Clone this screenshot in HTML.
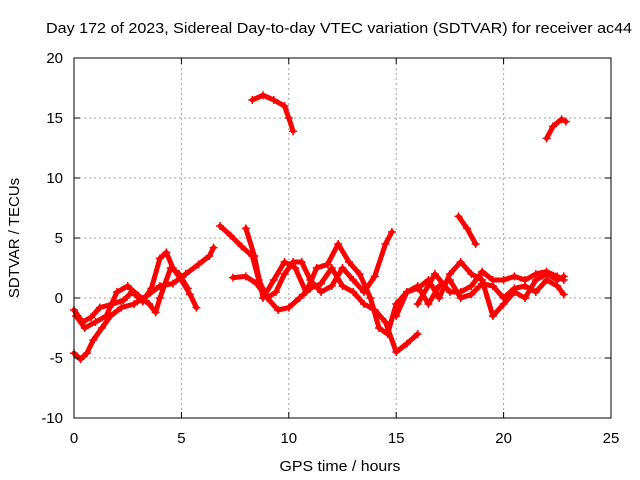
<!DOCTYPE html>
<html><head><meta charset="utf-8"><style>
html,body{margin:0;padding:0;background:#fff;}
svg{display:block;font-family:"Liberation Sans",sans-serif;}
</style></head><body>
<svg id="chart" width="640" height="480" viewBox="0 0 640 480">
<rect width="640" height="480" fill="#fff"/>
<text x="46" y="33" font-size="15" textLength="586" lengthAdjust="spacingAndGlyphs">Day 172 of 2023, Sidereal Day-to-day VTEC variation (SDTVAR) for receiver ac44</text>
<g id="grid"></g>
<g id="series"></g>
<rect x="74" y="58" width="537" height="360" fill="none" stroke="#000" stroke-width="1"/>
<g id="ticks"></g>
<text x="340" y="471" font-size="15" text-anchor="middle" textLength="121" lengthAdjust="spacingAndGlyphs">GPS time / hours</text>
<text transform="translate(19,238) rotate(-90)" font-size="15" text-anchor="middle">SDTVAR / TECUs</text>
</svg>
<script>
const xTicks=[0,5,10,15,20,25];
const yTicks=[-10,-5,0,5,10,15,20];
const track1=[[0,-4.6],[0.3,-5.1],[0.6,-4.6],[0.9,-3.5],[1.3,-2.5],[1.7,-1.5],[2.2,-0.8],[2.8,-0.5],[3.4,0.2],[4,1],[4.6,1.2],[5.2,2],[5.8,2.8],[6.3,3.5],[6.5,4.2]];
const track2=[[0,-1],[0.4,-2],[0.8,-1.6],[1.2,-0.8],[1.8,-0.5],[2.3,-0.2],[2.7,0.5],[3.2,-0.3],[3.6,0.8],[4,3.3],[4.3,3.8],[4.6,2.5],[5,1.5],[5.4,0.3],[5.7,-0.8]];
const track3=[[0.1,-1.5],[0.5,-2.5],[1,-2],[1.5,-1.5],[2,0.5],[2.5,1],[3,0.2],[3.5,-0.5],[3.8,-1.2],[4,0],[4.5,2.5],[4.9,2],[5.3,0.8]];
const track4=[[6.8,6],[7.3,5.2],[7.8,4.3],[8.3,3.5],[8.6,1.5],[9,0],[9.4,0.5],[9.8,2],[10.2,3],[10.6,3],[11,1.5],[11.5,0.5],[12,1],[12.5,2.5],[13,1.5],[13.5,0.5],[14,1.8],[14.5,4.5],[14.8,5.5]];
const track5=[[7.4,1.7],[8,1.8],[8.5,1.2],[9,0],[9.5,-1],[10,-0.8],[10.5,0],[11,0.8],[11.5,1.2],[12,2.5],[12.5,1],[13,0.5],[13.5,-0.5],[14,-1],[14.5,-2],[15,-4.5],[15.5,-3.8],[16,-3]];
const track6=[[8,5.8],[8.4,3.5],[8.8,0],[9.3,1.5],[9.8,3],[10.3,2.5],[10.8,0.5],[11.3,2.5],[11.8,2.8],[12.3,4.5],[12.8,3],[13.3,2],[13.8,0],[14.2,-2.5],[14.6,-3],[15,-0.5],[15.5,0.5],[16,0.8],[16.5,1.5],[17,0],[17.5,2],[18,3],[18.5,2],[19,1.5],[19.5,-1.5],[20,-0.5],[20.5,0.5],[21,0],[21.5,1.5],[22,2],[22.5,1.5],[22.8,1.8]];
const track7=[[15,-1.5],[15.5,0.5],[16,1],[16.5,-0.5],[17,1],[17.5,1.5],[18,0],[18.5,0.3],[19,1.2],[19.5,1],[20,0],[20.5,0.8],[21,1],[21.5,0.5],[22,1.5],[22.5,1],[22.8,0.3]];
const track8=[[16,-0.5],[16.8,2],[17.5,0.5],[18,0.5],[18.5,1],[19,2.2],[19.5,1.5],[20,1.5],[20.5,1.8],[21,1.5],[21.5,2],[22,2.2],[22.5,1.8],[22.8,1.5]];
const track9=[[17.9,6.8],[18.3,5.8],[18.7,4.5]];
const track10=[[8.3,16.5],[8.8,16.9],[9.3,16.5],[9.8,16],[10,15],[10.2,13.9]];
const track11=[[22,13.3],[22.3,14.3],[22.7,14.9],[22.9,14.7]];
const tracks=[track1,track2,track3,track4,track5,track6,track7,track8,track9,track10,track11];
const NS="http://www.w3.org/2000/svg";
const X=v=>74+v*(537/25);
const Y=v=>418-(v+10)*12;
const grid=document.getElementById('grid'),ticks=document.getElementById('ticks'),ser=document.getElementById('series');
function mk(t,a,p){const e=document.createElementNS(NS,t);for(const k in a)e.setAttribute(k,a[k]);p.appendChild(e);return e;}
xTicks.forEach(v=>{
 if(v>0&&v<25){const g=mk('line',{x1:X(v),x2:X(v),y1:58,y2:418,stroke:'#a0a0a0','stroke-dasharray':'2,3'},grid);
 
 }
 mk('line',{x1:X(v),x2:X(v),y1:418,y2:412,stroke:'#000'},ticks);
 mk('line',{x1:X(v),x2:X(v),y1:58,y2:64,stroke:'#000'},ticks);
 const t=mk('text',{x:X(v),y:443,'font-size':15,'text-anchor':'middle'},ticks);t.textContent=v;
 
 
});
yTicks.forEach(v=>{
 if(v>-10&&v<20){const g=mk('line',{x1:74,x2:611,y1:Y(v),y2:Y(v),stroke:'#a0a0a0','stroke-dasharray':'2,3'},grid);
 
 }
 mk('line',{x1:74,x2:80,y1:Y(v),y2:Y(v),stroke:'#000'},ticks);
 mk('line',{x1:605,x2:611,y1:Y(v),y2:Y(v),stroke:'#000'},ticks);
 const t=mk('text',{x:63,y:Y(v)+5,'font-size':15,'text-anchor':'end'},ticks);t.textContent=v;
 
 
});
tracks.forEach(tr=>{
 const pl=mk('polyline',{points:tr.map(p=>X(p[0])+','+Y(p[1])).join(' '),fill:'none',stroke:'#f00','stroke-width':5,'stroke-linejoin':'round','stroke-linecap':'round'},ser);
 
 
 tr.forEach(p=>{
  const m=mk('path',{d:`M${X(p[0])-4},${Y(p[1])}h8M${X(p[0])},${Y(p[1])-4}v8`,stroke:'#f00','stroke-width':1.5},ser);
  
  
 });
});
</script>
</body></html>
